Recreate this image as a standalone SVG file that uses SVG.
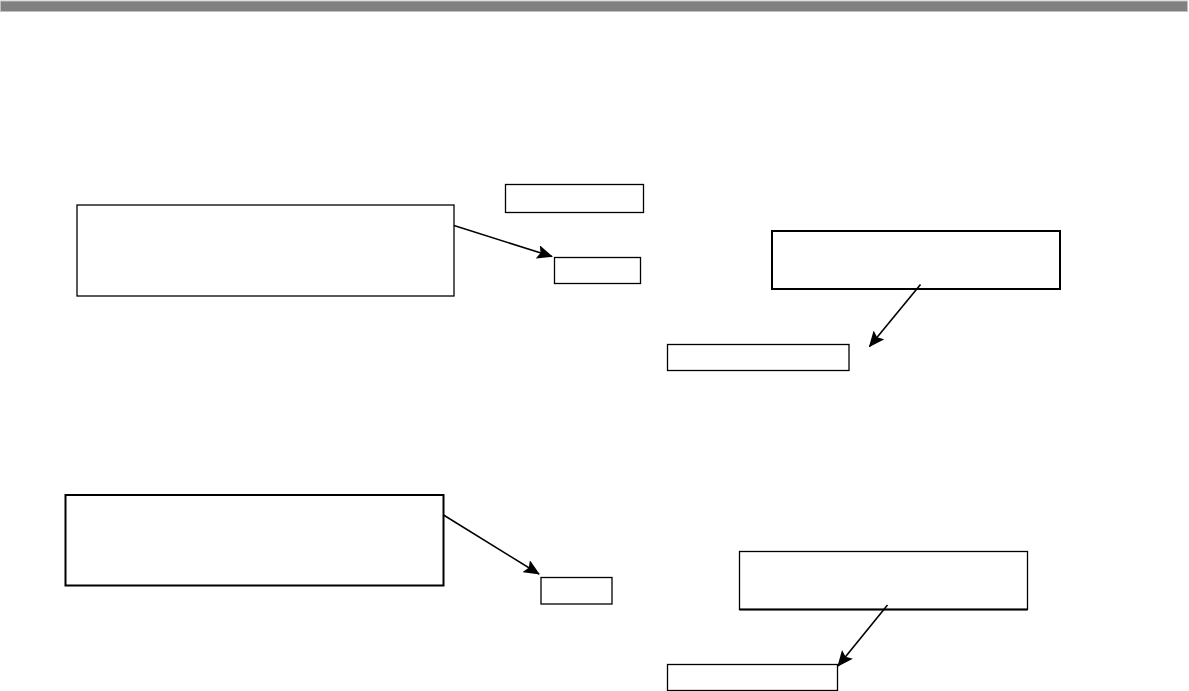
<svg xmlns="http://www.w3.org/2000/svg" width="1189" height="691" viewBox="0 0 1189 691">
<style>
.box{fill:#fff;stroke:#000;stroke-width:1.3}
.bold{fill:#fff;stroke:#000;stroke-width:2}
.conn{stroke:#000;stroke-width:1.6;fill:none;marker-end:url(#ah)}
</style>
<defs>
<marker id="ah" markerUnits="userSpaceOnUse" markerWidth="16" markerHeight="14" refX="15" refY="7" orient="auto">
<path d="M0,0 L16,7 L0,14 L3,7 Z" fill="#000"/>
</marker>
</defs>
<rect x="0.5" y="1" width="1187" height="10.5" fill="#808080" stroke="#c0c0c0" stroke-width="1"/>
<g id="n1"><rect class="box" x="77" y="205" width="377" height="91"/></g>
<g id="n2"><rect class="box" x="505.5" y="184.5" width="138" height="28"/></g>
<g id="n3"><rect class="box" x="554.5" y="257.5" width="86" height="26"/></g>
<g id="n4"><rect class="bold" x="772" y="231" width="288" height="58"/></g>
<g id="n5"><rect class="box" x="667.5" y="344.5" width="181.5" height="26"/></g>
<g id="n6"><rect class="bold" x="65.5" y="495" width="378" height="90.5"/></g>
<g id="n7"><rect class="box" x="541" y="577.5" width="71" height="26.5"/></g>
<g id="n8"><rect class="box" x="739.5" y="551.5" width="288" height="58"/><line x1="739.5" y1="609.5" x2="1027.5" y2="609.5" stroke="#000" stroke-width="2"/></g>
<g id="n9"><rect class="box" x="667.5" y="664.5" width="170" height="26"/></g>
<g id="connectors">
<line class="conn" x1="454" y1="225.5" x2="552" y2="256.5"/>
<line class="conn" x1="920.5" y1="284.5" x2="869.5" y2="346.5"/>
<line class="conn" x1="443.5" y1="515" x2="539" y2="574"/>
<line class="conn" x1="887.5" y1="605" x2="838" y2="666"/>
</g>
</svg>
